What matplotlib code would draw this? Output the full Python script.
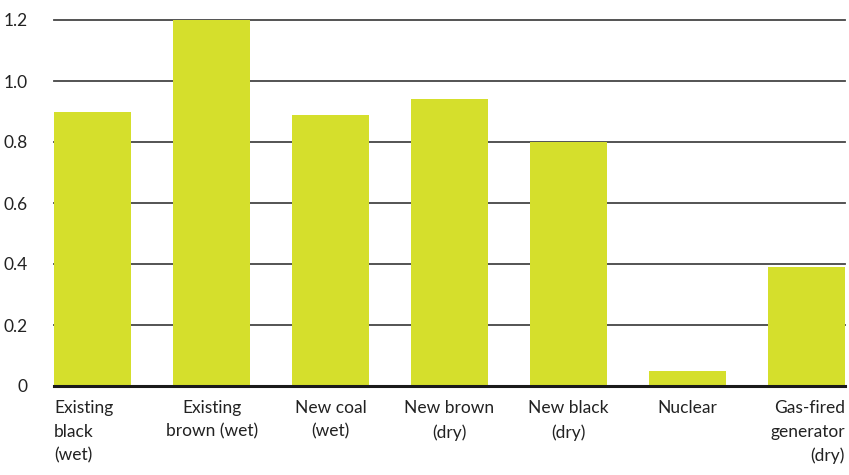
import matplotlib.pyplot as plt
import matplotlib.transforms as mtransforms
import numpy as np

# data
categories = ["Existing\nblack\n(wet)", "Existing\nbrown (wet)", "New coal\n(wet)",
              "New brown\n(dry)", "New black\n(dry)", "Nuclear", "Gas-fired\ngenerator\n(dry)"]
values = [0.90, 1.20, 0.89, 0.94, 0.80, 0.05, 0.39]
yticks = [0, 0.2, 0.4, 0.6, 0.8, 1.0, 1.2]
ytick_labels = ["0", "0.2", "0.4", "0.6", "0.8", "1.0", "1.2"]

plt.rcParams['font.family'] = ['Lato', 'DejaVu Sans']

fig = plt.figure(figsize=(8.49, 4.75), dpi=100)
ax = fig.add_axes([54 / 849, 1 - 386 / 475, (845 - 54) / 849, (386 - 20) / 475])

x = np.arange(len(values))
width = 0.65
ax.bar(x, values, width=width, color="#D5DF2C", zorder=3)

# horizontal grid lines behind bars
for t in yticks[1:]:
    ax.axhline(t, color="#454545", lw=1.3, zorder=1, clip_on=False)
ax.axhline(0, color="#1a1a1a", lw=2.2, zorder=4, clip_on=False)

ax.set_xlim(-width / 2, len(values) - 1 + width / 2)
ax.set_ylim(0, 1.2)
ax.set_yticks(yticks)
ax.set_yticklabels(ytick_labels, fontsize=12.5, color="#222222")
ax.tick_params(axis="y", length=0, pad=19)

ax.set_xticks(x)
ax.set_xticklabels(categories, fontsize=12.5, color="#222222", linespacing=1.6)
ax.tick_params(axis="x", length=0, pad=10)
labels = ax.get_xticklabels()
labels[0].set_ha("left")
labels[0].set_multialignment("left")
labels[-1].set_ha("right")
labels[-1].set_multialignment("right")
for i, lab in enumerate(labels):
    if 0 < i < len(labels) - 1:
        lab.set_multialignment("center")

# shift first/last labels to the bar edges
off = ax.transData.transform((width / 2, 0))[0] - ax.transData.transform((0, 0))[0]
labels[0].set_transform(labels[0].get_transform() + mtransforms.ScaledTranslation(-off / 100, 0, fig.dpi_scale_trans))
labels[-1].set_transform(labels[-1].get_transform() + mtransforms.ScaledTranslation(off / 100, 0, fig.dpi_scale_trans))

for s in ax.spines.values():
    s.set_visible(False)

fig.savefig("out.png", dpi=100)
